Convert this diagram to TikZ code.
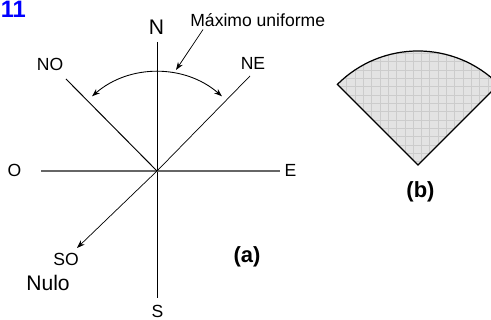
\documentclass[tikz,border=0pt]{standalone}
\usepackage{fontspec}
\setmainfont{Liberation Sans}
\usetikzlibrary{arrows.meta,calc}
\definecolor{numblue}{RGB}{0,0,255}
\begin{document}
\begin{tikzpicture}[x=0.02cm,y=-0.02cm,
    lab/.style={font=\fontsize{10}{12}\selectfont, inner sep=0pt, anchor=base},
    biglab/.style={font=\fontsize{12}{14}\selectfont, inner sep=0pt, anchor=base},
    tag/.style={font=\bfseries\fontsize{12.5}{15}\selectfont, inner sep=0pt, anchor=base},
    tip/.style={-{Stealth[length=4.5pt,width=3.2pt]}},
    tips/.style={{Stealth[length=4.5pt,width=3.2pt]}-{Stealth[length=4.5pt,width=3.2pt]}}]
  \useasboundingbox (0,0) rectangle (491,320);
  % Numero
  \node [tag, font=\bfseries\fontsize{13.5}{16}\selectfont, anchor=base west, text=numblue] (num) at (0.5,17.5) {11};
  % Assi
  \coordinate (c) at (157,171);
  \coordinate (n) at (157,42);
  \coordinate (s) at (157,298);
  \coordinate (o) at (41,171);
  \coordinate (e) at (280,171);
  \coordinate (no) at (66,79);
  \coordinate (ne) at (250,76);
  \coordinate (so) at (77,248);
  \draw [line width=0.5pt] (n) -- (s);
  \draw [black!60, line width=0.8pt] (o) -- (e);
  \draw [line width=0.55pt] (no) -- (c);
  \draw [line width=0.4pt] (ne) -- (c);
  \draw [tip, line width=0.4pt] (c) -- (so);
  % Arco
  \draw [tips, line width=0.5pt] ($(c)+(-131:99)$) arc [start angle=-131, end angle=-49, radius=99];
  \coordinate (arcpt) at (176,70);
  % Etichette
  \node [biglab] (lN) at (156.5,35) {N};
  \node [lab] (lNO) at (50,70.5) {NO};
  \node [lab] (lNE) at (253,70) {NE};
  \node [lab] (lO) at (14.5,176.5) {O};
  \node [lab] (lE) at (290.5,176.5) {E};
  \node [lab] (lSO) at (66,266) {SO};
  \node [biglab] (lnulo) at (48,290.5) {Nulo};
  \node [lab] (lS) at (157.5,318) {S};
  \node [lab, anchor=base west] (lmax) at (190,27) {Máximo uniforme};
  \draw [tip, line width=0.4pt] (lmax.south west) ++(13,2) -- (arcpt);
  \node [tag] (la) at (247,263) {(a)};
  \node [tag] (lb) at (420.5,198) {(b)};
  % Settore
  \coordinate (apex) at (418,165);
  \begin{scope}
    \clip (apex) -- ++(-135:114) arc [start angle=-135, end angle=-45, radius=114] -- cycle;
    \fill [gray!22] (320,40) rectangle (500,170);
    \foreach \g in {0,...,21} {
      \draw [black!20, line width=0.3pt] (329.8+8.33*\g,40) -- ++(0,135);
      \draw [black!20, line width=0.3pt] (320,45+8.33*\g) -- ++(185,0);
    }
  \end{scope}
  \draw [line width=0.7pt, line join=miter] (apex) -- ++(-135:114) arc [start angle=-135, end angle=-45, radius=114] -- cycle;
\end{tikzpicture}
\end{document}
